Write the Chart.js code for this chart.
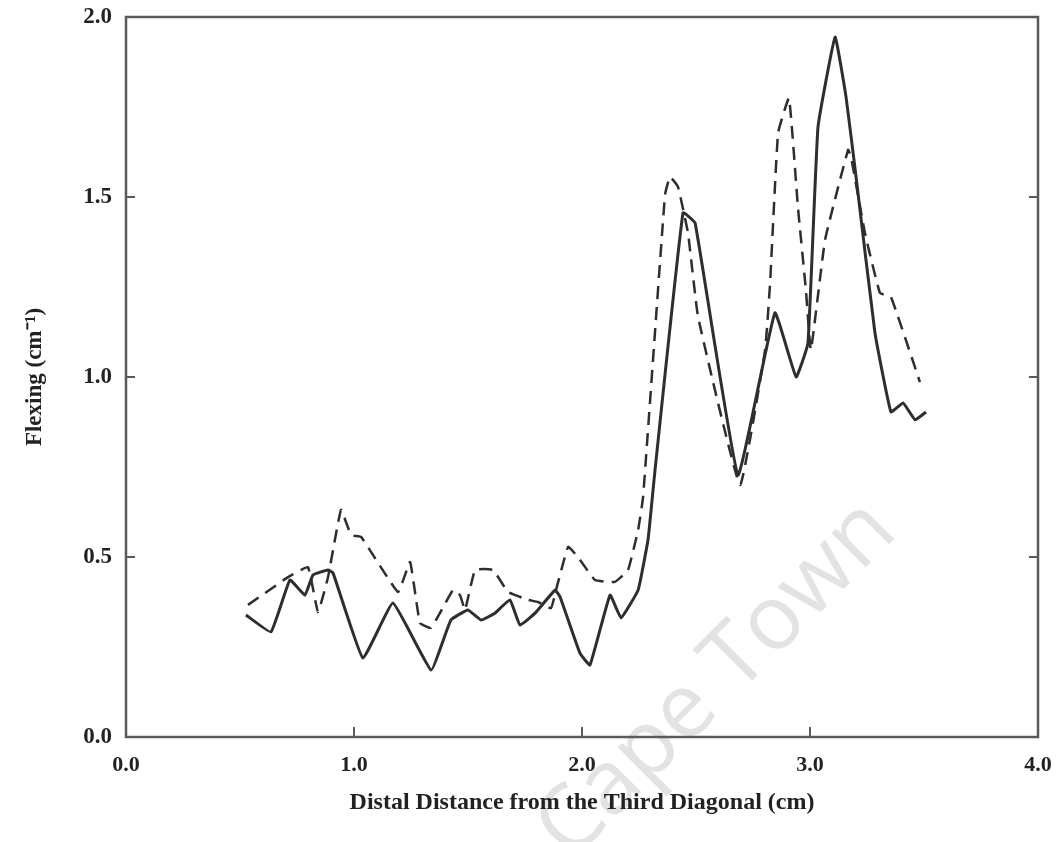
<!DOCTYPE html>
<html lang="en">
<head>
    <meta charset="UTF-8">
    <title>Flexing</title>
    <script src="https://cdn.jsdelivr.net/npm/chart.js"></script>
    <style>
        body { margin: 0; background: #fff; }
        #wrap { width: 1063px; height: 842px; }
    </style>
</head>
<body>
<div id="wrap"><canvas id="flexChart"></canvas></div>

<script>
    // Values (distance in cm, flexing in cm^-1)
    var solidX = [0.526, 0.636, 0.719, 0.785, 0.820, 0.886, 0.908, 1.039, 1.171, 1.338, 1.425, 1.500, 1.557, 1.618, 1.684, 1.728, 1.794, 1.882, 1.904, 1.991, 2.035, 2.123, 2.171, 2.246, 2.290, 2.320, 2.443, 2.496, 2.684, 2.846, 2.939, 2.991, 3.035, 3.110, 3.158, 3.202, 3.285, 3.355, 3.408, 3.461, 3.509];
    var solidY = [0.339, 0.292, 0.436, 0.394, 0.450, 0.464, 0.456, 0.219, 0.372, 0.186, 0.325, 0.353, 0.325, 0.344, 0.381, 0.311, 0.344, 0.408, 0.389, 0.233, 0.200, 0.394, 0.331, 0.408, 0.550, 0.740, 1.456, 1.428, 0.728, 1.178, 1.000, 1.094, 1.694, 1.944, 1.778, 1.556, 1.122, 0.903, 0.928, 0.881, 0.903];

    var dashedX = [0.535, 0.711, 0.798, 0.842, 0.886, 0.943, 0.987, 1.031, 1.193, 1.246, 1.289, 1.338, 1.434, 1.465, 1.487, 1.531, 1.610, 1.675, 1.763, 1.807, 1.864, 1.886, 1.939, 1.982, 2.057, 2.145, 2.202, 2.246, 2.268, 2.364, 2.386, 2.421, 2.465, 2.509, 2.693, 2.803, 2.825, 2.860, 2.908, 2.947, 2.982, 3.004, 3.066, 3.167, 3.180, 3.241, 3.307, 3.355, 3.482];
    var dashedY = [0.367, 0.444, 0.472, 0.347, 0.444, 0.631, 0.561, 0.556, 0.403, 0.486, 0.317, 0.303, 0.408, 0.394, 0.353, 0.464, 0.464, 0.403, 0.381, 0.375, 0.358, 0.408, 0.528, 0.500, 0.436, 0.431, 0.464, 0.575, 0.667, 1.506, 1.556, 1.528, 1.400, 1.167, 0.700, 1.075, 1.261, 1.678, 1.775, 1.472, 1.242, 1.075, 1.381, 1.631, 1.611, 1.400, 1.233, 1.222, 0.986];

    var xTicks = [0, 1, 2, 3, 4];
    var yTicks = [0, 0.5, 1, 1.5, 2];

    function toPoints(xs, ys) {
        return xs.map(function (x, i) { return { x: x, y: ys[i] }; });
    }

    var serif = "'Liberation Serif', 'Times New Roman', serif";
    var inkColor = '#2e2e2e';
    var frameColor = '#5a5a5a';

    // frame box with small inward tick marks
    var framePlugin = {
        id: 'frame',
        afterDraw: function (chart) {
            var ctx = chart.ctx;
            var a = chart.chartArea;
            var xs = chart.scales.x, ys = chart.scales.y;
            ctx.save();
            ctx.strokeStyle = frameColor;
            ctx.lineWidth = 2.5;
            ctx.strokeRect(a.left, a.top, a.right - a.left, a.bottom - a.top);
            ctx.lineWidth = 2;
            ctx.beginPath();
            yTicks.slice(1, -1).forEach(function (v) {
                var py = ys.getPixelForValue(v);
                ctx.moveTo(a.left, py); ctx.lineTo(a.left + 9, py);
                ctx.moveTo(a.right, py); ctx.lineTo(a.right - 9, py);
            });
            xTicks.slice(1, -1).forEach(function (v) {
                var px = xs.getPixelForValue(v);
                ctx.moveTo(px, a.bottom); ctx.lineTo(px, a.bottom - 10);
            });
            ctx.stroke();
            ctx.restore();
        }
    };

    // faint diagonal watermark, under everything else
    var watermarkPlugin = {
        id: 'watermark',
        beforeDraw: function (chart) {
            var ctx = chart.ctx;
            ctx.save();
            ctx.translate(735, 698);
            ctx.rotate(-Math.PI / 4);
            ctx.font = "90px 'Open Sans', 'Liberation Sans', sans-serif";
            ctx.fillStyle = '#e3e3e3';
            ctx.textAlign = 'center';
            ctx.textBaseline = 'alphabetic';
            ctx.fillText('Cape Town', 0, 0);
            ctx.restore();
        }
    };

    var ctx = document.getElementById('flexChart').getContext('2d');
    new Chart(ctx, {
        type: 'line',
        data: {
            datasets: [{
                label: 'solid',
                data: toPoints(solidX, solidY),
                borderColor: inkColor,
                borderWidth: 3,
                pointRadius: 0,
                tension: 0.1,
                fill: false
            }, {
                label: 'dashed',
                data: toPoints(dashedX, dashedY),
                borderColor: inkColor,
                borderWidth: 2.5,
                borderDash: [13, 8],
                pointRadius: 0,
                tension: 0.1,
                fill: false
            }]
        },
        options: {
            responsive: true,
            maintainAspectRatio: false,
            animation: false,
            layout: { padding: { top: 17, right: 25, left: 0, bottom: 0 } },
            plugins: {
                legend: { display: false },
                tooltip: { enabled: false }
            },
            scales: {
                x: {
                    type: 'linear',
                    min: 0,
                    max: 4,
                    afterFit: function (scale) {
                        scale.height = 105;
                        scale.paddingLeft = 0;
                        scale.paddingRight = 0;
                    },
                    afterBuildTicks: function (scale) {
                        scale.ticks = xTicks.map(function (v) { return { value: v }; });
                    },
                    grid: { display: false, drawTicks: false },
                    border: { display: false },
                    ticks: {
                        padding: 15,
                        color: '#222',
                        font: { family: serif, size: 22, weight: 'bold' },
                        callback: function (v) { return Number(v).toFixed(1); }
                    },
                    title: {
                        display: true,
                        text: 'Distal Distance from the Third Diagonal (cm)',
                        color: '#222',
                        font: { family: serif, size: 24, weight: 'bold' },
                        padding: { top: 0, bottom: 25 }
                    }
                },
                y: {
                    type: 'linear',
                    min: 0,
                    max: 2,
                    afterFit: function (scale) {
                        scale.width = 126;
                        scale.paddingTop = 0;
                        scale.paddingBottom = 0;
                    },
                    afterBuildTicks: function (scale) {
                        scale.ticks = yTicks.map(function (v) { return { value: v }; });
                    },
                    grid: { display: false, drawTicks: false },
                    border: { display: false },
                    ticks: {
                        padding: 14,
                        color: '#222',
                        font: { family: serif, size: 23, weight: 'bold' },
                        callback: function (v) { return Number(v).toFixed(1); }
                    },
                    title: {
                        display: true,
                        text: 'Flexing (cm\u207B\u00B9)',
                        color: '#222',
                        font: { family: serif, size: 23, weight: 'bold' },
                        padding: { top: 21, bottom: 0 }
                    }
                }
            }
        },
        plugins: [watermarkPlugin, framePlugin]
    });
</script>
</body>
</html>
